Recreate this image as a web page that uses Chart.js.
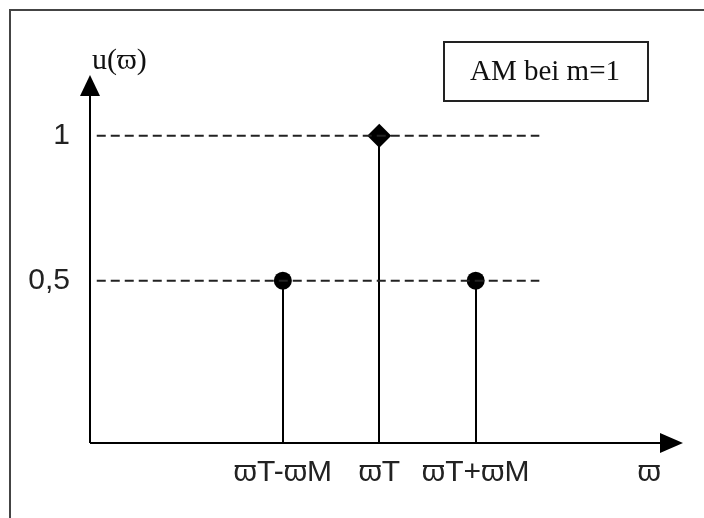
<!DOCTYPE html>
<html>
<head>
<meta charset="utf-8">
<script src="https://cdn.jsdelivr.net/npm/chart.js@4"></script>
<style>
  html, body { margin: 0; padding: 0; background: #fff; }
  #chart { display: block; }
</style>
</head>
<body>
<canvas id="chart" width="704" height="518"></canvas>
<script>
// spectrum of AM with modulation index m = 1
const categories = ["ϖT-ϖM", "ϖT", "ϖT+ϖM"];
const freqs = [2, 3, 4];              // ϖT-ϖM, ϖT, ϖT+ϖM
const amplitudes = [0.5, 1, 0.5];
const markerStyles = ["circle", "rectRot", "circle"];
const yTicks = [0.5, 1];
const yTickLabels = ["0,5", "1"];
const axisLabelX = "ϖ";
const axisLabelXPos = 5.8;
const axisLabelY = "u(ϖ)";
const legendText = "AM bei m=1";
const guideFrom = 0.07, guideTo = 4.66;

const sansFont = '"Liberation Sans", Arial, sans-serif';
const serifFont = '"Liberation Serif", "Times New Roman", serif';

const xTickValues = freqs.concat([axisLabelXPos]);
const xTickLabels = categories.concat([axisLabelX]);

// axes, arrows, stems, frame and legend box
const drawing = {
  id: "drawing",
  beforeDatasetsDraw(chart) {
    const { ctx, chartArea: a, scales } = chart;
    const xs = scales.x, ys = scales.y;
    ctx.save();

    // outer frame
    ctx.strokeStyle = "#444";
    ctx.lineWidth = 2;
    ctx.strokeRect(10, 10, 800, 600);

    // axes
    ctx.strokeStyle = "#000";
    ctx.fillStyle = "#000";
    ctx.lineWidth = 2;
    ctx.beginPath();
    ctx.moveTo(a.left, a.bottom);
    ctx.lineTo(a.left, a.top + 20);
    ctx.moveTo(a.left, a.bottom);
    ctx.lineTo(a.right - 22, a.bottom);
    ctx.stroke();

    ctx.beginPath();
    ctx.moveTo(a.left, a.top);
    ctx.lineTo(a.left - 10, a.top + 21);
    ctx.lineTo(a.left + 10, a.top + 21);
    ctx.closePath();
    ctx.fill();

    ctx.beginPath();
    ctx.moveTo(a.right, a.bottom);
    ctx.lineTo(a.right - 23, a.bottom - 10);
    ctx.lineTo(a.right - 23, a.bottom + 10);
    ctx.closePath();
    ctx.fill();

    // stems
    ctx.beginPath();
    freqs.forEach((f, i) => {
      const px = Math.round(xs.getPixelForValue(f));
      ctx.moveTo(px, a.bottom);
      ctx.lineTo(px, ys.getPixelForValue(amplitudes[i]));
    });
    ctx.stroke();

    // y axis title
    ctx.fillStyle = "#111";
    ctx.font = "30px " + serifFont;
    ctx.textAlign = "left";
    ctx.textBaseline = "middle";
    ctx.fillText(axisLabelY, a.left + 2, a.top - 14);

    // legend box
    ctx.strokeStyle = "#222";
    ctx.strokeRect(444, 42, 204, 59);
    ctx.font = "29px " + serifFont;
    ctx.textAlign = "center";
    ctx.fillText(legendText, 545, 72);

    ctx.restore();
  }
};

const guideSets = yTicks.map(v => ({
  type: "line",
  data: [{ x: guideFrom, y: v }, { x: guideTo, y: v }],
  borderColor: "#222",
  borderWidth: 2,
  borderDash: [9, 5],
  pointRadius: 0,
  fill: false
}));

new Chart(document.getElementById("chart"), {
  type: "scatter",
  data: {
    datasets: guideSets.concat([{
      data: freqs.map((f, i) => ({ x: f, y: amplitudes[i] })),
      pointStyle: markerStyles,
      pointRadius: [9, 12, 9],
      pointBackgroundColor: "#000",
      pointBorderColor: "#000",
      pointBorderWidth: 0
    }])
  },
  options: {
    responsive: false,
    animation: false,
    events: [],
    layout: { padding: { top: 75, right: 21, left: 0, bottom: 0 } },
    plugins: { legend: { display: false }, tooltip: { enabled: false } },
    scales: {
      x: {
        type: "linear",
        min: 0,
        max: 6.15,
        grid: { display: false },
        border: { display: false },
        afterBuildTicks: s => { s.ticks = xTickValues.map(v => ({ value: v })); },
        afterFit: s => { s.height = 75; },
        ticks: {
          autoSkip: false,
          maxRotation: 0,
          padding: 4,
          color: "#222",
          font: { family: sansFont, size: 30 },
          callback: (v) => xTickLabels[xTickValues.indexOf(v)]
        }
      },
      y: {
        type: "linear",
        min: -0.06,
        max: 1.21,
        grid: { display: false },
        border: { display: false },
        afterBuildTicks: s => { s.ticks = yTicks.map(v => ({ value: v })); },
        afterFit: s => { s.width = 90; },
        ticks: {
          autoSkip: false,
          padding: 12,
          color: "#222",
          font: { family: sansFont, size: 30 },
          callback: (v) => yTickLabels[yTicks.indexOf(v)]
        }
      }
    }
  },
  plugins: [drawing]
});
</script>
</body>
</html>
